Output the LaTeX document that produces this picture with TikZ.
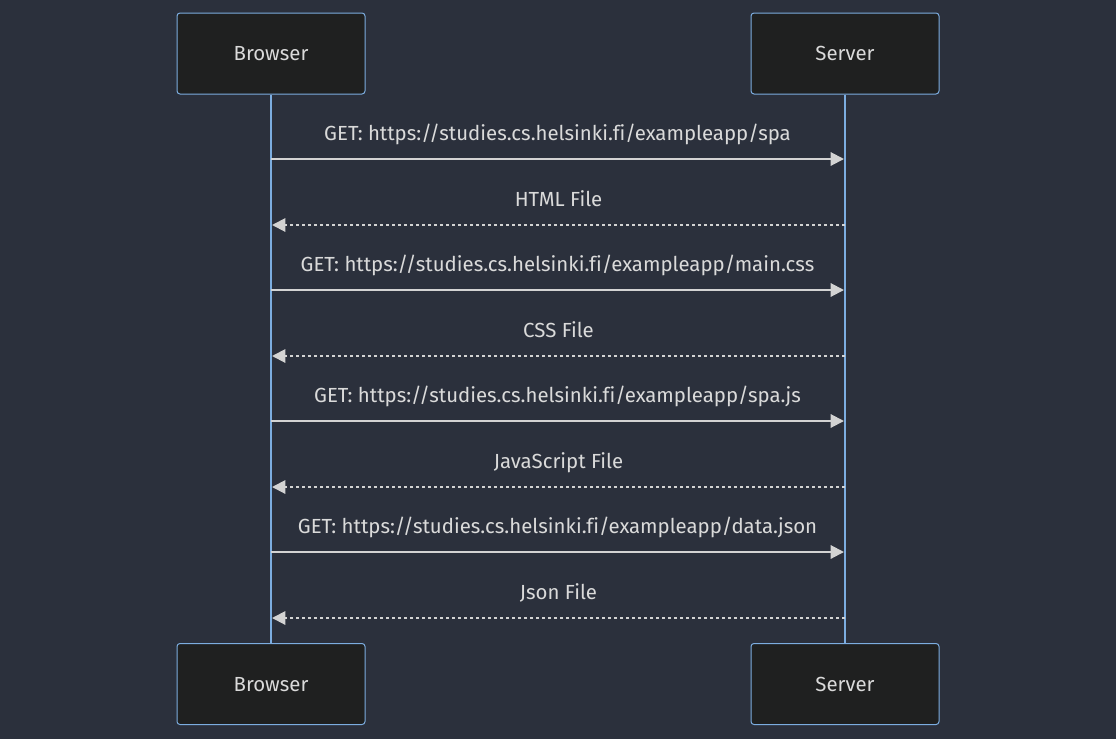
\documentclass[tikz,border=0pt]{standalone}
\usepackage{fontspec}
\setmainfont[Ligatures=NoCommon]{Fira Sans}
\usetikzlibrary{arrows.meta}

\definecolor{bgcol}{HTML}{2B303C}
\definecolor{boxfill}{HTML}{1F2020}
\definecolor{lifeblue}{HTML}{7CADE0}
\definecolor{msgline}{HTML}{D3D3D3}
\definecolor{msgtext}{HTML}{DADADA}

\tikzset{
    actor/.style={draw=lifeblue, fill=boxfill, rounded corners=2.25pt, line width=0.75pt,
        minimum width=141pt, minimum height=60.75pt, text=msgtext, font=\fontsize{15.3}{17}\selectfont,
        text height=11pt, text depth=0pt},
    lifeline/.style={draw=lifeblue, line width=1.6pt},
    msg/.style={draw=msgline, line width=1.5pt, -{Triangle[length=10pt,width=10pt]}},
    reply/.style={msg, dash pattern=on 2.25pt off 2.25pt},
    lbl/.style={text=msgtext, font=\fontsize{15.3}{17}\selectfont, text height=11pt, text depth=3pt,
        yshift=18.25pt}
}

\begin{document}
\begin{tikzpicture}[x=0.75pt,y=-0.75pt]
    \fill[bgcol] (0,0) rectangle (1116,739);
    \useasboundingbox (0,0) rectangle (1116,739);
    % participants
    \node[actor] (browserTop) at (271,53.5) {Browser};
    \node[actor] (serverTop) at (845,53.5) {Server};
    \node[actor] (browserBot) at (271,684) {Browser};
    \node[actor] (serverBot) at (845,684) {Server};
    \draw[lifeline] (browserTop.south) -- (browserBot.north);
    \draw[lifeline] (serverTop.south) -- (serverBot.north);
    % requests and replies
    \coordinate (b1) at (271,159); \coordinate (s1) at (844,159);
    \coordinate (b2) at (272,225); \coordinate (s2) at (845,225);
    \coordinate (b3) at (271,290); \coordinate (s3) at (844,290);
    \coordinate (b4) at (272,356); \coordinate (s4) at (845,356);
    \coordinate (b5) at (271,421); \coordinate (s5) at (844,421);
    \coordinate (b6) at (272,487); \coordinate (s6) at (845,487);
    \coordinate (b7) at (271,552); \coordinate (s7) at (844,552);
    \coordinate (b8) at (272,618); \coordinate (s8) at (845,618);
    \draw[msg] (b1) -- node[lbl] (getSpa) {GET: https://studies.cs.helsinki.fi/exampleapp/spa} (s1);
    \draw[reply] (s2) -- node[lbl] (html) {HTML File} (b2);
    \draw[msg] (b3) -- node[lbl] (getCss) {GET: https://studies.cs.helsinki.fi/exampleapp/main.css} (s3);
    \draw[reply] (s4) -- node[lbl] (css) {CSS File} (b4);
    \draw[msg] (b5) -- node[lbl] (getJs) {GET: https://studies.cs.helsinki.fi/exampleapp/spa.js} (s5);
    \draw[reply] (s6) -- node[lbl] (js) {JavaScript File} (b6);
    \draw[msg] (b7) -- node[lbl] (getJson) {GET: https://studies.cs.helsinki.fi/exampleapp/data.json} (s7);
    \draw[reply] (s8) -- node[lbl] (json) {Json File} (b8);
\end{tikzpicture}
\end{document}
